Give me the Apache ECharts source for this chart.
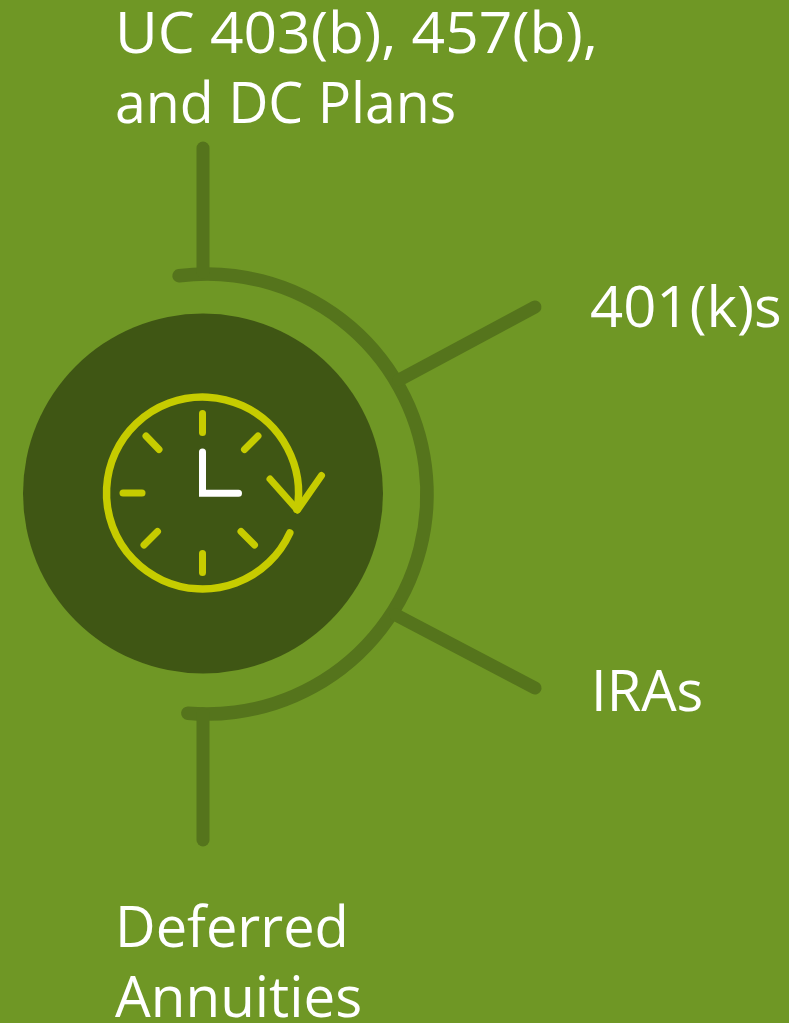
<!DOCTYPE html>
<html>
<head>
<meta charset="utf-8">
<style>
  html, body { margin: 0; padding: 0; background: #6f9725; }
  #chart { width: 789px; height: 1023px; }
</style>
<script src="https://cdn.jsdelivr.net/npm/echarts@6/dist/echarts.min.js"></script>
</head>
<body>
<div id="chart"></div>
<script>
// text lines with left edge and vertical middle
var labelLines = ['UC 403(b), 457(b),', 'and DC Plans', '401(k)s', 'IRAs', 'Deferred', 'Annuities']
var labelX = [115, 115, 590, 591, 115, 115]
var labelY = [37, 107, 311, 695, 931, 1001]
// digits run wider in the original font
var labelStretch = [1.048, 0.99, 1.035, 1, 1, 1.01]

// connector lines, [x, y] points
var spokeTop = [[203, 148], [203, 272]]
var spokeBottom = [[203, 714], [203, 840]]
var spokeUpper = [[399, 380], [535, 307]]
var spokeLower = [[396, 615], [535, 688]]

// [cx, cy, r]
var disc = [[203, 493.5, 180]]
// [cx, cy, r, startDeg, endDeg], clockwise
var ringArc = [[207, 494, 220, 262.7, 455]]
var clockArc = [[202.5, 493, 96, 24.6, 370]]

var clockTicks = [
  [[202.5, 413.5], [202.5, 432.5]],
  [[202.5, 553.5], [202.5, 572.5]],
  [[123, 493], [142, 493]],
  [[146, 436], [159, 449.5]],
  [[258, 436], [244.5, 449.5]],
  [[157.5, 531.5], [144, 545]],
  [[241, 531.5], [254.5, 545]]
]
var clockHands = [[202.5, 452], [202.5, 493.3], [238.5, 493.3]]
var clockArrow = [[270, 479], [297.5, 510], [321.5, 475.5]]

var green = '#6f9725'
var lineGreen = '#55741c'
var discGreen = '#3f5614'
var clockYellow = '#c6cc00'

function lineSeries(points, color, width, join) {
  return {
    type: 'line',
    data: points,
    showSymbol: false,
    silent: true,
    animation: false,
    clip: false,
    z: 3,
    lineStyle: { color: color, width: width, cap: 'round', join: join || 'round' }
  }
}

function arcSeries(data, color, width) {
  return {
    type: 'custom',
    data: data,
    silent: true,
    animation: false,
    clip: false,
    z: 3,
    renderItem: function (params, api) {
      var c = api.coord([api.value(0), api.value(1)])
      return {
        type: 'arc',
        shape: {
          cx: c[0],
          cy: c[1],
          r: api.size([api.value(2), 0])[0],
          startAngle: api.value(3) * Math.PI / 180,
          endAngle: api.value(4) * Math.PI / 180,
          clockwise: true
        },
        style: { fill: null, stroke: color, lineWidth: width, lineCap: 'round' }
      }
    }
  }
}

var series = [
  {
    type: 'custom',
    data: disc,
    silent: true,
    animation: false,
    z: 2,
    renderItem: function (params, api) {
      var c = api.coord([api.value(0), api.value(1)])
      return {
        type: 'circle',
        shape: { cx: c[0], cy: c[1], r: api.size([api.value(2), 0])[0] },
        style: { fill: discGreen }
      }
    }
  },
  arcSeries(ringArc, lineGreen, 13.5),
  lineSeries(spokeTop, lineGreen, 13),
  lineSeries(spokeBottom, lineGreen, 13),
  lineSeries(spokeUpper, lineGreen, 13),
  lineSeries(spokeLower, lineGreen, 13),
  arcSeries(clockArc, clockYellow, 7.5),
  lineSeries(clockArrow, clockYellow, 7),
  lineSeries(clockHands, '#ffffff', 7, 'miter'),
  {
    type: 'custom',
    data: labelX.map(function (x, i) { return [x, labelY[i]] }),
    silent: true,
    animation: false,
    clip: false,
    z: 4,
    renderItem: function (params, api) {
      var c = api.coord([api.value(0), api.value(1)])
      return {
        type: 'text',
        x: c[0],
        y: c[1],
        scaleX: labelStretch[params.dataIndex],
        style: {
          text: labelLines[params.dataIndex],
          fill: '#ffffff',
          fontSize: 56,
          fontFamily: 'Open Sans',
          align: 'left',
          verticalAlign: 'middle'
        }
      }
    }
  }
]

clockTicks.forEach(function (t) {
  series.push(lineSeries(t, clockYellow, 7))
})

var chart = echarts.init(document.getElementById('chart'))
chart.setOption({
  backgroundColor: green,
  grid: { left: 0, right: 0, top: 0, bottom: 0 },
  xAxis: { type: 'value', min: 0, max: 789, show: false },
  yAxis: { type: 'value', min: 0, max: 1023, inverse: true, show: false },
  series: series
})
</script>
</body>
</html>
